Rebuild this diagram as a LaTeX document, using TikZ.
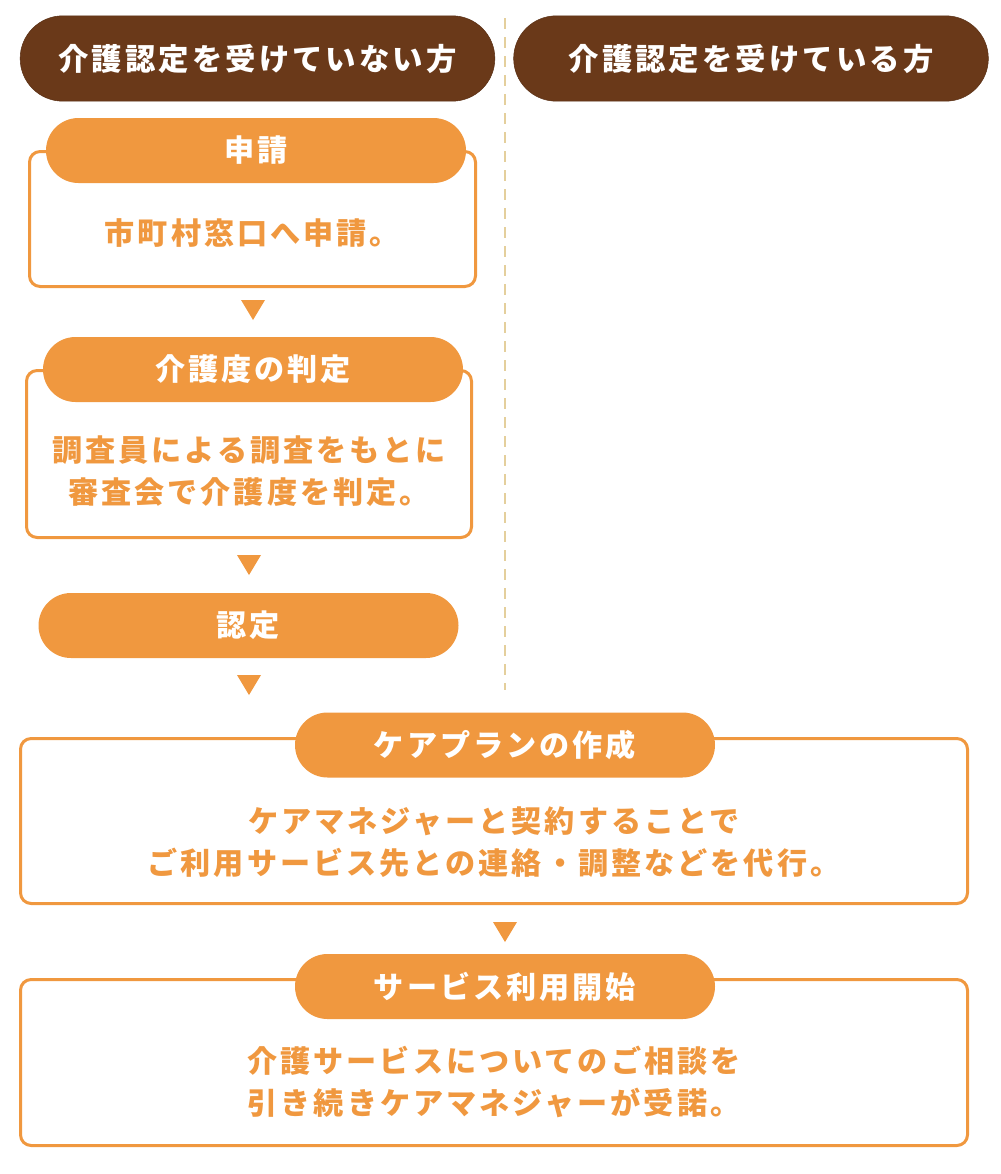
\documentclass[tikz,border=0pt]{standalone}
\usepackage{fontspec}
\usetikzlibrary{shapes.misc}
\newfontfamily\jpfont[LetterSpace=10]{Noto Sans CJK JP}
\definecolor{kbrown}{HTML}{6A3919}
\definecolor{korange}{HTML}{F0983F}
\definecolor{kdash}{HTML}{E4CF9C}
\begin{document}
\begin{tikzpicture}[
    x=0.75pt, y=-0.75pt,
    header/.style={rounded rectangle, draw=kbrown!85!black, fill=kbrown, text=white,
        minimum width=356pt, minimum height=64pt, inner sep=0pt,
        font=\jpfont\bfseries\fontsize{22.8pt}{27pt}\selectfont},
    pill/.style={rounded rectangle, fill=korange, text=white,
        minimum width=315pt, minimum height=48.75pt, inner sep=0pt,
        font=\jpfont\bfseries\fontsize{22.6pt}{27pt}\selectfont},
    frame/.style={draw=korange, line width=2.25pt, rounded corners=8pt, fill=white,
        inner sep=0pt},
    body/.style={text=korange, align=center,
        font=\jpfont\bfseries\fontsize{22.6pt}{31.5pt}\selectfont},
    marker/.style={fill=korange}
]
    \useasboundingbox (0,0) rectangle (1000,1174);

    % Divider
    \coordinate (dtop) at (505,18);
    \coordinate (dbot) at (505,690);
    \draw[kdash, line width=1.9pt, dash pattern=on 8.25pt off 6pt] (dtop) -- (dbot);

    % Headers
    \node[header] (hl) at (257.5,58.5) {介護認定を受けていない方};
    \node[header] (hr) at (751,58.5) {介護認定を受けている方};

    % Frames
    \node[frame, minimum width=334.5pt, minimum height=101.25pt] (b1) at (252.5,219) {};
    \node[frame, minimum width=333.75pt, minimum height=125.25pt] (b2) at (249,454) {};
    \node[frame, minimum width=710.25pt, minimum height=123.75pt] (b3) at (494,821) {};
    \node[frame, minimum width=710.25pt, minimum height=124.5pt] (b4) at (494,1062.5) {};

    % Steps
    \node[pill] (p1) at (256,150.5) {申請};
    \node[pill] (p2) at (253,369.5) {介護度の判定};
    \node[pill] (p3) at (248.5,625.5) {認定};
    \node[pill] (p4) at (505,745) {ケアプランの作成};
    \node[pill] (p5) at (505,986.5) {サービス利用開始};

    % Texts
    \node[body] (t1) at (252.5,233) {市町村窓口へ申請。};
    \node[body] (t2) at (249,471) {調査員による調査をもとに\\審査会で介護度を判定。};
    \node[body] (t3) at (494,842) {ケアマネジャーと契約することで\\ご利用サービス先との連絡・調整などを代行。};
    \node[body] (t4) at (494,1082) {介護サービスについてのご相談を\\引き続きケアマネジャーが受諾。};

    % Markers
    \coordinate (a1) at (253,310);
    \coordinate (a2) at (249,565);
    \coordinate (a3) at (249,685);
    \coordinate (a4) at (505,932);
    \foreach \p in {a1,a2,a3,a4}
        \fill[marker] (\p) ++(-12,-10) -- ++(24,0) -- ++(-12,20) -- cycle;
\end{tikzpicture}
\end{document}
